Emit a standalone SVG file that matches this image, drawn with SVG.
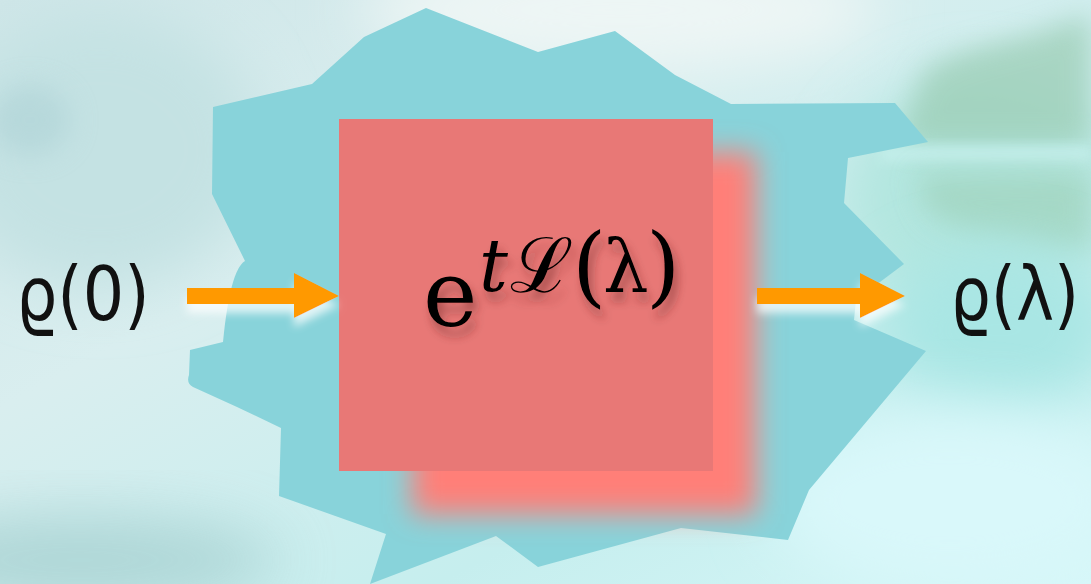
<svg xmlns="http://www.w3.org/2000/svg" width="1091" height="584" viewBox="0 0 1091 584">
  <style>
    .lbl { font-family: "DejaVu Sans", "Noto Sans", sans-serif; font-size: 74px; fill: #111; }
    .math { font-family: "DejaVu Serif", "Liberation Serif", serif; fill: #000; }
    .arrow { fill: #ff9900; }
  </style>
  <defs>
    <linearGradient id="bgBase" x1="0" y1="0" x2="1" y2="1">
      <stop offset="0" stop-color="#cfe6e8"/>
      <stop offset="0.35" stop-color="#d9eeef"/>
      <stop offset="0.7" stop-color="#c6eeee"/>
      <stop offset="1" stop-color="#d6f7f8"/>
    </linearGradient>
    <filter id="blur30" x="-50%" y="-50%" width="200%" height="200%"><feGaussianBlur stdDeviation="30"/></filter>
    <filter id="blur14" x="-50%" y="-50%" width="200%" height="200%"><feGaussianBlur stdDeviation="14"/></filter>
    <filter id="blur6" x="-50%" y="-50%" width="200%" height="200%"><feGaussianBlur stdDeviation="6"/></filter>
    <filter id="txtShadow" x="-20%" y="-20%" width="150%" height="160%">
      <feDropShadow dx="4" dy="9" stdDeviation="5" flood-color="#5a2020" flood-opacity="0.45"/>
    </filter>
    <filter id="arrowGlow" x="-30%" y="-100%" width="160%" height="400%">
      <feDropShadow dx="0" dy="9" stdDeviation="4" flood-color="#ffffff" flood-opacity="0.75"/>
    </filter>
  </defs>

  <g id="background">
    <rect width="1091" height="584" fill="url(#bgBase)"/>
    <ellipse cx="620" cy="10" rx="260" ry="60" fill="#eef6f5" filter="url(#blur30)"/>
    <ellipse cx="100" cy="150" rx="160" ry="140" fill="#c4e2e3" filter="url(#blur30)"/>
    <ellipse cx="30" cy="120" rx="40" ry="35" fill="#a9cfd3" opacity="0.5" filter="url(#blur14)"/>
    <ellipse cx="980" cy="200" rx="140" ry="120" fill="#b2e6df" filter="url(#blur30)"/>
    <path d="M905 120 L925 70 L955 55 L990 45 L1030 35 L1060 25 L1091 15 L1091 145 L905 145 Z" fill="#9ccdb5" opacity="0.75" filter="url(#blur14)"/>
    <rect x="880" y="146" width="211" height="16" fill="#c2eeea" filter="url(#blur6)"/>
    <path d="M915 175 L1091 172 L1091 250 L1060 248 L1010 238 L960 230 L930 215 Z" fill="#9ccfb5" opacity="0.6" filter="url(#blur14)"/>
    <ellipse cx="1000" cy="330" rx="120" ry="80" fill="#a9e6e4" filter="url(#blur30)"/>
    <ellipse cx="80" cy="560" rx="200" ry="45" fill="#a6d0d0" opacity="0.8" filter="url(#blur30)"/>
    <ellipse cx="950" cy="500" rx="180" ry="90" fill="#d9f8fa" filter="url(#blur30)"/>
  </g>

  <g id="node-blob">
    <path d="M426 8 L538 52 L615 31 L675 75 L731 104 L895 103 L928 142 L848 158 L844 203 L904 264 L856 300 L854 320 L926 351 L809 490 L788 540 L681 528 L538 567 L496 536 L370 584 L386 534 L279 496 L281 428 L237 407 L193 387 Q186 383 189 375 L190 350 L223 342 Q230 270 245 261 L212 194 L213 107 L312 84 L364 37 Z" fill="#88d3da"/>
  </g>

  <g id="node-process">
    <rect x="412" y="152" width="344" height="362" fill="#ff7f78" filter="url(#blur14)"/>
    <rect x="339" y="119" width="374" height="352" fill="#e87876"/>
    <g filter="url(#txtShadow)">
      <text class="math" x="423" y="326" font-size="92">e</text>
      <text class="math" x="479" y="291" font-size="72" font-style="italic">t</text>
      <text class="math" x="510" y="292" font-size="76">ℒ</text>
      <text class="math" x="572" y="296" font-size="88">(</text>
      <text class="math" x="603" y="292" font-size="72">λ</text>
      <text class="math" x="646" y="296" font-size="88">)</text>
    </g>
  </g>

  <g id="node-input">
    <text class="lbl" transform="translate(16 320) scale(0.88 1)">ϱ(0)</text>
  </g>

  <g id="node-output">
    <text class="lbl" transform="translate(950 320) scale(0.87 1)">ϱ(λ)</text>
  </g>

  <g id="connectors">
    <g filter="url(#arrowGlow)">
      <path class="arrow" d="M187 288 H294 V273 L339 296 L294 318 V304 H187 Z"/>
    </g>
    <g filter="url(#arrowGlow)">
      <path class="arrow" d="M757 288 H860 V273 L905 296 L860 318 V304 H757 Z"/>
    </g>
  </g>
</svg>
